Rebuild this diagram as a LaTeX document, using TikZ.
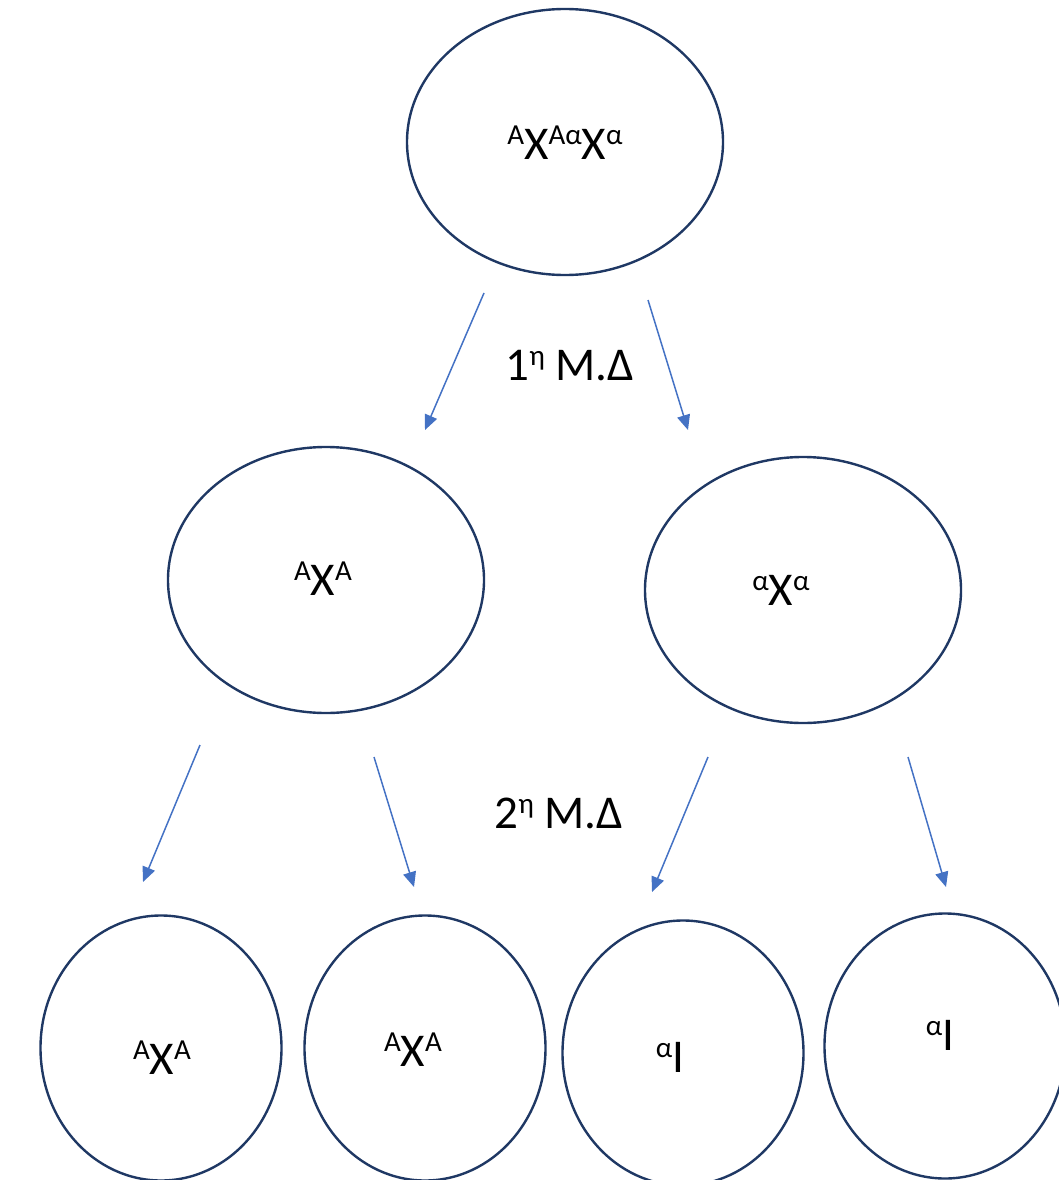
\documentclass[tikz,border=0pt]{standalone}
\usepackage{fontspec}
\setmainfont{Carlito}
\usetikzlibrary{shapes.geometric,arrows.meta}
\definecolor{cellline}{HTML}{1F3864}
\definecolor{arrowblue}{HTML}{4472C4}
\newcommand\allele[1]{\raisebox{15pt}{\fontsize{29}{30}\selectfont #1}}
\tikzset{
  cell/.style={ellipse, draw=cellline, line width=2.4pt, inner sep=0pt,
    minimum width=316pt, minimum height=266pt},
  small cell/.style={cell, minimum width=241pt, minimum height=265pt},
  gene/.style={font=\fontsize{47}{50}\selectfont, inner sep=0pt},
  split/.style={draw=arrowblue, line width=1.5pt, -{Triangle[length=15pt,width=13pt]}}
}
\begin{document}
\begin{tikzpicture}[x=1pt,y=-1pt]
    \useasboundingbox (0,0) rectangle (1059,1180);
    % cells
    \node [cell] (c0) at (565,142) {};
    \node [cell] (c1) at (326,580) {};
    \node [cell] (c2) at (803,590) {};
    \node [small cell] (c11) at (161,1048) {};
    \node [small cell] (c12) at (425,1048) {};
    \node [small cell] (c21) at (683,1053) {};
    \node [small cell] (c22) at (945,1046) {};

    % genotypes
    \node [gene] (g0) at (565,143) {\allele{A}X\allele{Aα}X\allele{α}};
    \node [gene] (g1) at (323,579) {\allele{A}X\allele{A}};
    \node [gene] (g2) at (781,590) {\allele{α}X\allele{α}};
    \node [gene] (g11) at (162,1058) {\allele{A}X\allele{A}};
    \node [gene] (g12) at (413,1050) {\allele{A}X\allele{A}};
    \node [gene] (g21) at (670,1057) {\allele{α}I};
    \node [gene] (g22) at (940,1035) {\allele{α}I};

    % divisions
    \node [gene] (md1) at (570,366) {1\allele{η} Μ.Δ};
    \node [gene] (md2) at (559,813) {2\allele{η} Μ.Δ};

    \coordinate (s1) at (484,293); \coordinate (e1) at (425,430);
    \coordinate (s2) at (648,300); \coordinate (e2) at (688,430);
    \coordinate (s3) at (200,745); \coordinate (e3) at (143,882);
    \coordinate (s4) at (374,757); \coordinate (e4) at (414,887);
    \coordinate (s5) at (708,757); \coordinate (e5) at (652,892);
    \coordinate (s6) at (908,757); \coordinate (e6) at (946,887);

    \draw [split] (s1) -- (e1);
    \draw [split] (s2) -- (e2);
    \draw [split] (s3) -- (e3);
    \draw [split] (s4) -- (e4);
    \draw [split] (s5) -- (e5);
    \draw [split] (s6) -- (e6);
\end{tikzpicture}
\end{document}
